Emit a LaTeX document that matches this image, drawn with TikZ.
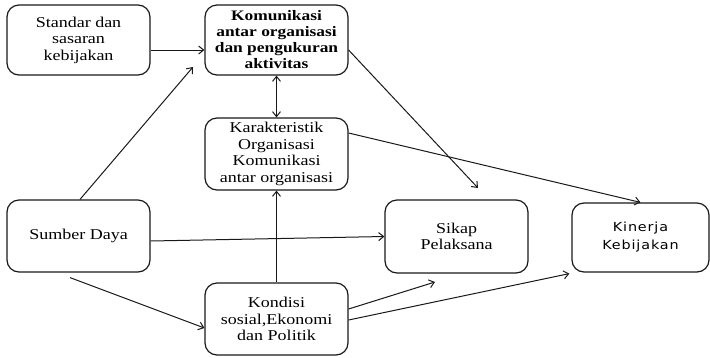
\documentclass[tikz,border=0pt]{standalone}
\usepackage{fontspec}
\setmainfont{Liberation Serif}[FakeStretch=1.2]
\newfontfamily\kinfont{DejaVu Sans}[FakeStretch=1.15,LetterSpace=7]
\usetikzlibrary{arrows.meta}
\begin{document}
\begin{tikzpicture}[x=1pt,y=-1pt,
  box/.style={draw=black!90,line width=1.2pt,rounded corners=12pt,align=center,
    inner sep=0pt,font=\fontsize{15}{16.5}\selectfont},
  conn/.style={draw=black!90,line width=1pt,-{Straight Barb[length=5pt,width=8pt,line width=1pt]}},
  conn2/.style={draw=black!90,line width=1pt,{Straight Barb[length=5pt,width=8pt,line width=1pt]}-{Straight Barb[length=5pt,width=8pt,line width=1pt]}}]
\useasboundingbox (0,0) rectangle (710,357);
\node[box,minimum width=143pt,minimum height=70pt] (std) at (78.5,40) {Standar dan\\sasaran\\kebijakan};
\node[box,minimum width=143pt,minimum height=70pt,font=\fontsize{14.5}{16}\selectfont\bfseries] (kom) at (276.5,40) {Komunikasi\\antar organisasi\\dan pengukuran\\aktivitas};
\node[box,minimum width=143pt,minimum height=72pt] (kar) at (276.5,154) {Karakteristik\\Organisasi\\Komunikasi\\antar organisasi};
\node[box,minimum width=143pt,minimum height=72pt] (sum) at (78.5,236) {Sumber Daya};
\node[box,minimum width=143pt,minimum height=72pt] (kon) at (276.5,319) {Kondisi\\sosial,Ekonomi\\dan Politik};
\node[box,minimum width=143pt,minimum height=73pt] (sik) at (456.5,236.5) {Sikap\\Pelaksana};
\node[box,minimum width=137pt,minimum height=69pt,font=\kinfont\fontsize{12.5}{18}\selectfont] (kin) at (640.5,237.5) {Kinerja\\Kebijakan};
\coordinate (p1) at (193,67);
\coordinate (p2) at (435,282);
\coordinate (p3) at (478,188);
\draw[conn] ([yshift=-10pt]std.east) -- ([yshift=-10pt]kom.west);
\draw[conn] ([xshift=1.5pt]sum.north) -- (p1);
\draw[conn2] (kom.south) -- (kar.north);
\draw[conn] (kon.north) -- (kar.south);
\draw[conn] ([yshift=-10pt]kom.east) -- (p3);
\draw[conn] ([yshift=21pt]kar.east) -- (kin.north);
\draw[conn] ([yshift=-5pt]sum.east) -- (sik.west);
\draw[conn] ([shift={(-8.5pt,-5pt)}]sum.south) -- ([yshift=-9pt]kon.west);
\draw[conn] ([yshift=10pt]kon.east) -- (p2);
\draw[conn] ([yshift=-1pt]kon.east) -- ([xshift=-2pt,yshift=-1pt]kin.south west);
\end{tikzpicture}
\end{document}
